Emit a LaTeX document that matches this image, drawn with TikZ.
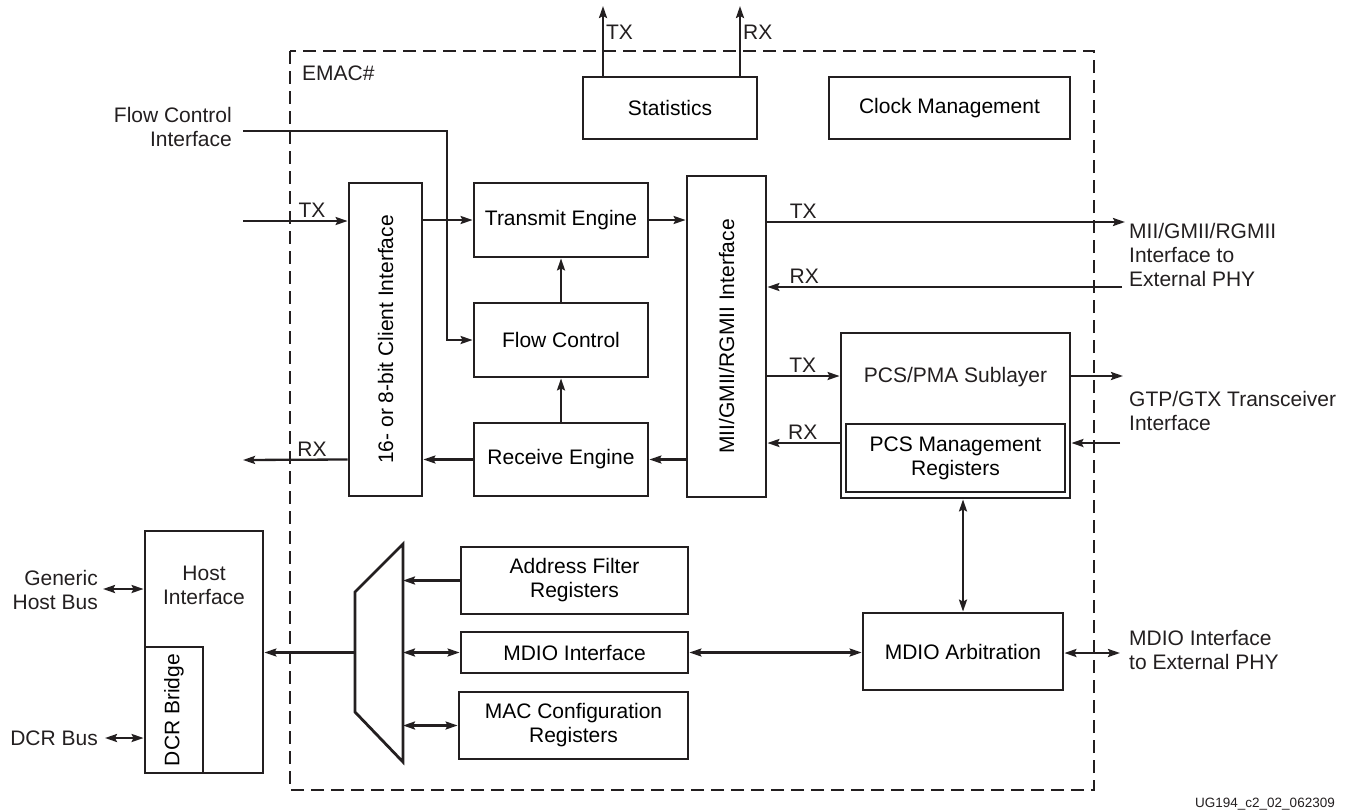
\documentclass[tikz,border=0pt]{standalone}
\usepackage{fontspec}
\setmainfont{Liberation Sans}
\usepackage{graphicx}
\usetikzlibrary{arrows.meta,positioning,calc}
\definecolor{ink}{RGB}{35,31,32}
\tikzset{
  >={Stealth[length=12pt,width=8pt,inset=2pt]},
  blk/.style={rectangle,draw=ink,line width=2.8pt,inner sep=0pt,align=center},
  txt/.style={text=ink,inner sep=0pt,align=center},
  lbl/.style={text=ink,inner sep=2pt},
  sig/.style={->,draw=ink,line width=2.3pt},
  bus/.style={<->,draw=ink,line width=2.3pt},
  frame/.style={draw=ink,line width=2.6pt,dash pattern=on 13pt off 7pt}
}

\begin{document}
\begin{tikzpicture}[x=1pt,y=-1pt,font=\fontsize{21}{24}\selectfont]
    \useasboundingbox (0,0) rectangle (1349,811);

    % EMAC frame
    \draw[frame] (290,51) rectangle (1094,790);
    \node[txt,anchor=west] (emac) at (302,73) {EMAC\#};

    % top blocks
    \node[blk,minimum width=174,minimum height=62] (stats) at (670,108) {Statistics};
    \node[blk,minimum width=241,minimum height=62] (clock) at (949.5,108) {Clock Management};

    % client side
    \node[blk,minimum width=73,minimum height=313] (client) at (385.5,339.5)
      {\rotatebox{90}{16- or 8-bit Client Interface}};
    \node[blk,minimum width=174,minimum height=74] (txe) at (561,220) {Transmit Engine};
    \node[blk,minimum width=174,minimum height=74] (fc) at (561,340) {Flow Control};
    \node[blk,minimum width=174,minimum height=73] (rxe) at (561,459.5) {Receive Engine};
    \node[blk,minimum width=79,minimum height=321] (mii) at (726.5,336.5)
      {\rotatebox{90}{MII/GMII/RGMII Interface}};

    % PCS/PMA
    \node[blk,minimum width=229,minimum height=165] (pcs) at (955.5,415.5) {};
    \node[txt] (pcslbl) at (955.5,377) {PCS/PMA Sublayer};
    \node[blk,minimum width=219,minimum height=68] (pcsm) at (955.5,458)
      {PCS Management\\Registers};

    % management side
    \node[blk,minimum width=227,minimum height=67] (addr) at (574.5,580.5)
      {Address Filter\\Registers};
    \node[blk,minimum width=227,minimum height=41] (mdioi) at (574.5,652.5) {MDIO Interface};
    \node[blk,minimum width=229,minimum height=67] (macc) at (573.5,725.5)
      {MAC Configuration\\Registers};
    \node[blk,minimum width=200,minimum height=77] (arb) at (963,651.5) {MDIO Arbitration};

    % host
    \node[blk,minimum width=118,minimum height=242] (host) at (204,652) {};
    \node[txt] (hostlbl) at (204,585) {Host\\Interface};
    \node[blk,minimum width=58,minimum height=126] (dcr) at (174,710)
      {\rotatebox{90}{DCR Bridge}};

    % mux
    \coordinate (mxtl) at (355,592);
    \coordinate (mxtr) at (403,544);
    \coordinate (mxbr) at (403,762);
    \coordinate (mxbl) at (355,712);
    \draw[draw=ink,line width=2.8pt,line join=miter] (mxtl) -- (mxtr) -- (mxbr) -- (mxbl) -- cycle;

    % free ends
    \coordinate (stx) at (603,6);
    \coordinate (srx) at (740,6);
    \coordinate (fcin) at (243,131);
    \coordinate (fcbend) at (447,131);
    \coordinate (txin) at (243,221);
    \coordinate (rxout) at (243,460);
    \coordinate (miitx) at (1125,222);
    \coordinate (miirx) at (1122,287);
    \coordinate (gtpout) at (1123,376);
    \coordinate (gtpin) at (1120,443);
    \coordinate (mdioext) at (1120,653);
    \coordinate (ghb) at (103,589);
    \coordinate (dcrb) at (105,738);

    % outside texts
    \node[txt,align=right,anchor=east] (fclbl) at (232,127) {Flow Control\\Interface};
    \node[txt,align=left,anchor=west] (miiext) at (1129,255) {MII/GMII/RGMII\\Interface to\\External PHY};
    \node[txt,align=left,anchor=west] (gtplbl) at (1129,411) {GTP/GTX Transceiver\\Interface};
    \node[txt,align=left,anchor=west] (mdiolbl) at (1129,650) {MDIO Interface\\to External PHY};
    \node[txt,align=right,anchor=east] (ghblbl) at (98,590) {Generic\\Host Bus};
    \node[txt,align=right,anchor=east] (dcrlbl) at (98,738) {DCR Bus};
    \node[txt,anchor=east,font=\fontsize{13.5}{16}\selectfont] (fig) at (1335,804) {UG194\_c2\_02\_062309};

    % statistics outputs
    \draw[sig] (stx |- stats.north) -- (stx) node[lbl,right,pos=0.62] {TX};
    \draw[sig] (srx |- stats.north) -- (srx) node[lbl,right,pos=0.62] {RX};

    % client datapath
    \draw[sig] (fcin) -- (fcbend) |- (fc.west);
    \draw[sig] (txin) -- (txin -| client.west) node[lbl,above,pos=0.66] {TX};
    \draw[sig] (client.east |- txe.west) -- (txe.west);
    \draw[sig] (txe.east) -- (txe.east -| mii.west);
    \draw[sig] (fc.north) -- (txe.south);
    \draw[sig] (rxe.north) -- (fc.south);
    \draw[sig] (rxe.west) -- (rxe.west -| client.east);
    \draw[sig] (mii.west |- rxe.east) -- (rxe.east);
    \draw[sig] (client.west |- rxe.west) -- (rxout) node[lbl,above,pos=0.34] {RX};

    % PHY side
    \draw[sig] (mii.east |- miitx) -- (miitx) node[lbl,above,pos=0.10] {TX};
    \draw[sig] (miirx) -- (miirx -| mii.east) node[lbl,above,pos=0.896] {RX};
    \draw[sig] (mii.east |- gtpout) -- (gtpout -| pcs.west) node[lbl,above,pos=0.49] {TX};
    \draw[sig] (gtpin -| pcs.west) -- (gtpin -| mii.east) node[lbl,above,pos=0.51] {RX};
    \draw[sig] (pcs.east |- gtpout) -- (gtpout);
    \draw[sig] (gtpin) -- (gtpin -| pcs.east);

    % management
    \draw[bus] (arb.north |- pcs.south) -- (arb.north);
    \draw[bus] (mdioi.east) -- (arb.west |- mdioi.east);
    \draw[bus] (arb.east |- mdioext) -- (mdioext);
    \draw[sig] (addr.west) -- (addr.west -| mxtr);
    \draw[bus] (mdioi.west -| mxtr) -- (mdioi.west);
    \draw[bus] (macc.west -| mxtr) -- (macc.west);
    \draw[sig] (mdioi.west -| mxtl) -- (mdioi.west -| host.east);
    \draw[bus] (ghb) -- (ghb -| host.west);
    \draw[bus] (dcrb) -- (dcrb -| dcr.west);

\end{tikzpicture}
\end{document}
